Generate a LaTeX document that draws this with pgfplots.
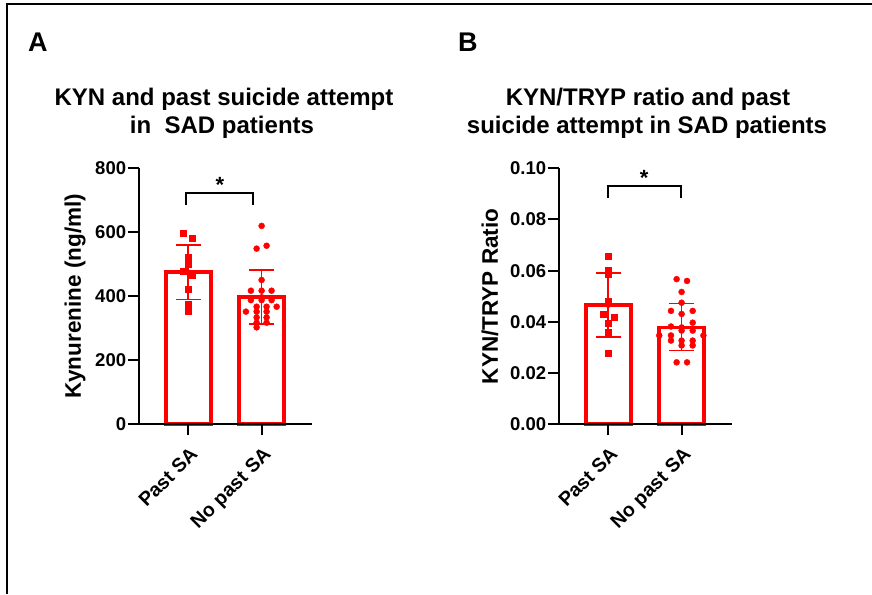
\documentclass[border=0pt]{standalone}
\usepackage{pgfplots}
\pgfplotsset{compat=1.18}
\usepackage{fontspec}
\setmainfont{Liberation Sans}
\pgfplotsset{
  prism/.style={
    scale only axis, width=172.4pt, height=256pt,
    axis lines*=left,
    xmin=-0.668, xmax=1.683, ymin=0,
    xtick={0,1}, xticklabels={Past SA, No past SA},
    tick align=outside, major tick length=11pt,
    every tick/.style={line width=2pt, black},
    axis line style={line width=2pt, black},
    xticklabel style={rotate=45, anchor=north east, font=\fontsize{19.5}{20}\selectfont\bfseries, inner sep=1pt, yshift=-7pt, xshift=-6pt},
    yticklabel style={font=\fontsize{18.5}{18}\selectfont\bfseries, inner sep=2pt},
    /pgf/number format/assume math mode=true,
    axis on top, clip=false,
    every axis y label/.style={rotate=90, anchor=center, font=\fontsize{22.5}{22}\selectfont\bfseries},
  },
  barstyle/.style={ybar, bar width=0.614, draw=red, fill=white, line width=3.8pt},
}
\begin{document}
\begin{tikzpicture}[x=1pt,y=1pt]
\useasboundingbox (0,0) rectangle (872,594);
\draw[line width=1.5pt] (7,0) -- (7,590) -- (872,590);
\node[font=\fontsize{27}{27}\selectfont\bfseries, anchor=base west, inner sep=0pt] at (28,542) {A};
\node[font=\fontsize{27}{27}\selectfont\bfseries, anchor=base west, inner sep=0pt] at (458,542) {B};
\node[font=\fontsize{24}{24}\selectfont\bfseries, anchor=base, inner sep=0pt] at (224,488) {KYN and past suicide attempt};
\node[font=\fontsize{24}{24}\selectfont\bfseries, anchor=base, inner sep=0pt] at (222,460) {in\ \ SAD patients};
\node[font=\fontsize{24}{24}\selectfont\bfseries, anchor=base, inner sep=0pt] at (648,488) {KYN/TRYP ratio and past};
\node[font=\fontsize{24}{24}\selectfont\bfseries, anchor=base, inner sep=0pt] at (647,460) {suicide attempt in SAD patients};

\begin{axis}[prism, at={(139.3pt,169.7pt)}, anchor=south west,
  ymax=800, ytick={0,200,400,600,800},
  ylabel={Kynurenine (ng/ml)},
  ylabel style={at={(axis description cs:-0.373,0.5)}}]
\addplot[barstyle] coordinates {(0,475) (1,398)};
\addplot[only marks, mark=square*, mark size=3pt, red] coordinates {
 (-0.076,597) (0.06,583) (0,521) (0,500) (-0.076,477) (0.06,467) (0,422) (0,375) (0,352)};
\addplot[only marks, mark=*, mark size=3pt, red] coordinates {
 (1,620) (0.932,549) (1.068,558) (1,451)
 (0.854,417.5) (1,417.5) (1.136,417.5)
 (0.854,388) (1,388) (1.136,388)
 (0.932,367.5) (1.068,367.5) (1.205,367.5)
 (0.786,352) (0.932,352) (1.068,352)
 (0.932,334) (1.068,334)
 (0.932,317.5) (1.068,317.5)
 (0.932,303)};
\addplot[red, line width=1.7pt, only marks, mark=none, forget plot,
  error bars/.cd, y dir=both, y explicit,
  error bar style={line width=1.7pt, red},
  error mark=-, error mark options={rotate=90, line width=1.7pt, red, mark size=12.5pt}]
  coordinates {(0,475) +- (0,85) (1,398) +- (0,84)};
\draw[line width=2pt, black] (axis cs:-0.03,685) |- (axis cs:0.887,724) -- (axis cs:0.887,685);
\node[anchor=base, inner sep=0pt, font=\fontsize{22}{22}\selectfont\bfseries] at (axis cs:0.43,724) {*};
\end{axis}

\begin{axis}[prism, at={(559.3pt,169.7pt)}, anchor=south west,
  ymax=0.1, ytick={0,0.02,0.04,0.06,0.08,0.1},
  yticklabel style={/pgf/number format/.cd, fixed, fixed zerofill, precision=2},
  scaled y ticks=false,
  ylabel={KYN/TRYP Ratio},
  ylabel style={at={(axis description cs:-0.402,0.5)}}]
\addplot[barstyle] coordinates {(0,0.0466) (1,0.0378)};
\addplot[only marks, mark=square*, mark size=3pt, red] coordinates {
 (0,0.0658) (0,0.0602) (0,0.0586) (0,0.0479) (-0.072,0.0431) (0.074,0.0418) (0,0.0394) (0,0.0359) (0,0.0278)};
\addplot[only marks, mark=*, mark size=3pt, red] coordinates {
 (0.932,0.0567) (1.074,0.0560) (1,0.0517) (1,0.0475)
 (0.855,0.0443) (1.151,0.0443) (1,0.0431)
 (1.151,0.0397) (0.855,0.0382)
 (1,0.0366) (1.151,0.0366)
 (0.695,0.0347) (0.855,0.0347) (1.297,0.0347)
 (0.855,0.0327) (1,0.0327) (1.151,0.0327)
 (1,0.0308) (1.151,0.0308)
 (0.932,0.0242) (1.074,0.0242)};
\addplot[red, line width=1.7pt, only marks, mark=none, forget plot,
  error bars/.cd, y dir=both, y explicit,
  error bar style={line width=1.7pt, red},
  error mark=-, error mark options={rotate=90, line width=1.7pt, red, mark size=12.5pt}]
  coordinates {(0,0.0466) +- (0,0.0124) (1,0.0380) +- (0,0.0092)};
\draw[line width=2pt, black] (axis cs:0,0.0883) |- (axis cs:0.99,0.0931) -- (axis cs:0.99,0.0883);
\node[anchor=base, inner sep=0pt, font=\fontsize{22}{22}\selectfont\bfseries] at (axis cs:0.49,0.0931) {*};
\end{axis}
\end{tikzpicture}
\end{document}
